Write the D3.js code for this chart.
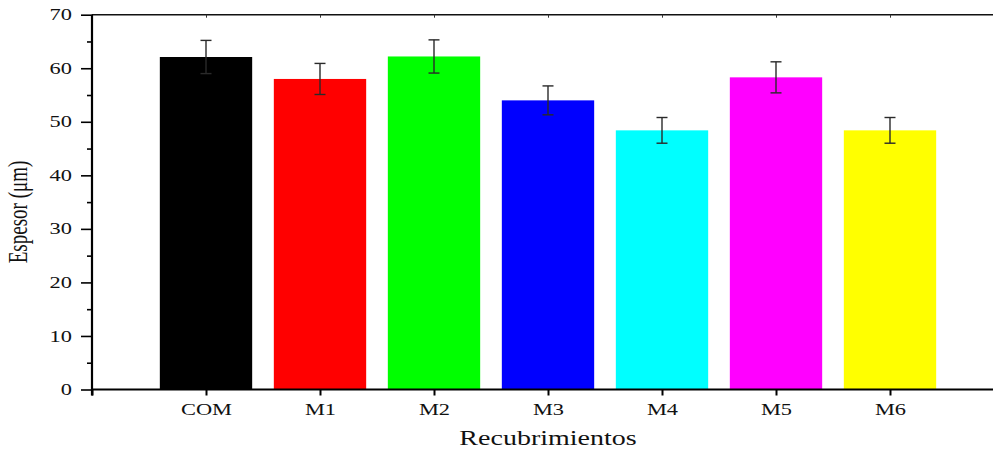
<!DOCTYPE html>
<html>
<head>
<meta charset="utf-8">
<script src="https://cdn.jsdelivr.net/npm/d3@7"></script>
<style>
  html, body { margin: 0; padding: 0; background: #fff; }
  svg { display: block; }
  text { font-family: "Liberation Serif", "DejaVu Serif", serif; fill: #111; }
</style>
</head>
<body>
<svg id="chart" width="993" height="450"></svg>
<script>
// Coating thickness (µm) per sample, with standard deviation
const categories = ["COM", "M1", "M2", "M3", "M4", "M5", "M6"];
const thickness = [62.1, 58.0, 62.2, 54.0, 48.4, 58.3, 48.4];
const deviation = [3.1, 2.9, 3.1, 2.7, 2.4, 2.9, 2.4];
const barColors = ["#000000", "#ff0000", "#00ff00", "#0000ff", "#00ffff", "#ff00ff", "#ffff00"];
const yMajorTicks = [0, 10, 20, 30, 40, 50, 60, 70];
const yMinorTicks = [5, 15, 25, 35, 45, 55, 65];
const yTitle = "Espesor (\u03bcm)";
const xTitle = "Recubrimientos";

const stretch = 1.4; // horizontal widening of lettering
const svg = d3.select("#chart");

const plotLeft = 92, plotTop = 14.7, plotBottom = 389.5, step = 114;
const x = d3.scaleLinear().domain([0, 8]).range([plotLeft, plotLeft + 8 * step]);
const y = d3.scaleLinear().domain([0, 70]).range([plotBottom, plotTop]);
const barW = 0.81 * step;

const data = categories.map((c, i) => ({ c, i, v: thickness[i], e: deviation[i], col: barColors[i] }));

// bars
svg.append("g").selectAll("rect").data(data).join("rect")
  .attr("x", d => x(d.i + 1) - barW / 2)
  .attr("width", barW)
  .attr("y", d => y(d.v))
  .attr("height", d => y(0) - y(d.v))
  .attr("fill", d => d.col);

// error bars
const capW = 11;
const eg = svg.append("g").attr("stroke", "#2a2a2a").attr("stroke-width", 1.4).attr("fill", "none");
data.forEach(d => {
  const cx = x(d.i + 1);
  eg.append("line").attr("x1", cx).attr("x2", cx).attr("y1", y(d.v + d.e)).attr("y2", y(d.v - d.e));
  eg.append("line").attr("x1", cx - capW / 2).attr("x2", cx + capW / 2).attr("y1", y(d.v + d.e)).attr("y2", y(d.v + d.e));
  eg.append("line").attr("x1", cx - capW / 2).attr("x2", cx + capW / 2).attr("y1", y(d.v - d.e)).attr("y2", y(d.v - d.e));
});

// top frame line with small inward ticks
const topAxis = svg.append("g").attr("transform", `translate(0,${plotTop})`)
  .call(d3.axisTop(x).tickValues(d3.range(1, 8)).tickSize(-3).tickFormat(""));
topAxis.select(".domain").attr("stroke", "#111").attr("stroke-width", 1.6).attr("d", `M${plotLeft},0H993`);
topAxis.selectAll(".tick line").attr("stroke", "#333");

// bottom axis
const xAxis = svg.append("g").attr("transform", `translate(0,${plotBottom})`)
  .call(d3.axisBottom(x).tickValues(d3.range(0, 8)).tickSize(6).tickPadding(8)
    .tickFormat(v => v === 0 ? "" : categories[v - 1]));
xAxis.select(".domain").attr("stroke", "#000").attr("stroke-width", 2.2).attr("d", `M${plotLeft},0H993`);
xAxis.selectAll(".tick line").attr("stroke", "#000").attr("stroke-width", 2);
xAxis.selectAll(".tick text")
  .attr("font-size", 16).attr("font-family", "Liberation Serif").attr("fill", "#111")
  .attr("transform", `scale(${stretch},1)`).attr("y", 14).attr("dy", "0.71em");

// left axis: minor ticks then major ticks with labels
const yMinor = svg.append("g").attr("transform", `translate(${plotLeft},0)`)
  .call(d3.axisLeft(y).tickValues(yMinorTicks).tickSize(5).tickFormat(""));
yMinor.select(".domain").remove();
yMinor.selectAll(".tick line").attr("stroke", "#000").attr("stroke-width", 1.6);

const yAxis = svg.append("g").attr("transform", `translate(${plotLeft},0)`)
  .call(d3.axisLeft(y).tickValues(yMajorTicks).tickSize(11).tickSizeOuter(0));
yAxis.select(".domain").attr("stroke", "#000").attr("stroke-width", 2.2)
  .attr("d", `M0,${plotBottom + 6}V${plotTop}`);
yAxis.selectAll(".tick line").attr("stroke", "#000").attr("stroke-width", 1.6);
yAxis.selectAll(".tick text")
  .attr("font-size", 16).attr("font-family", "Liberation Serif").attr("fill", "#111")
  .attr("x", -20 / stretch).attr("dy", "0.32em")
  .attr("transform", `scale(${stretch},1)`);

// axis titles
svg.append("text")
  .attr("transform", `translate(27,212) scale(${stretch},1) rotate(-90)`)
  .attr("text-anchor", "middle").attr("font-size", 19)
  .text(yTitle);

svg.append("text")
  .attr("transform", `translate(548,445) scale(${stretch},1)`)
  .attr("text-anchor", "middle").attr("font-size", 20)
  .text(xTitle);
</script>
</body>
</html>
